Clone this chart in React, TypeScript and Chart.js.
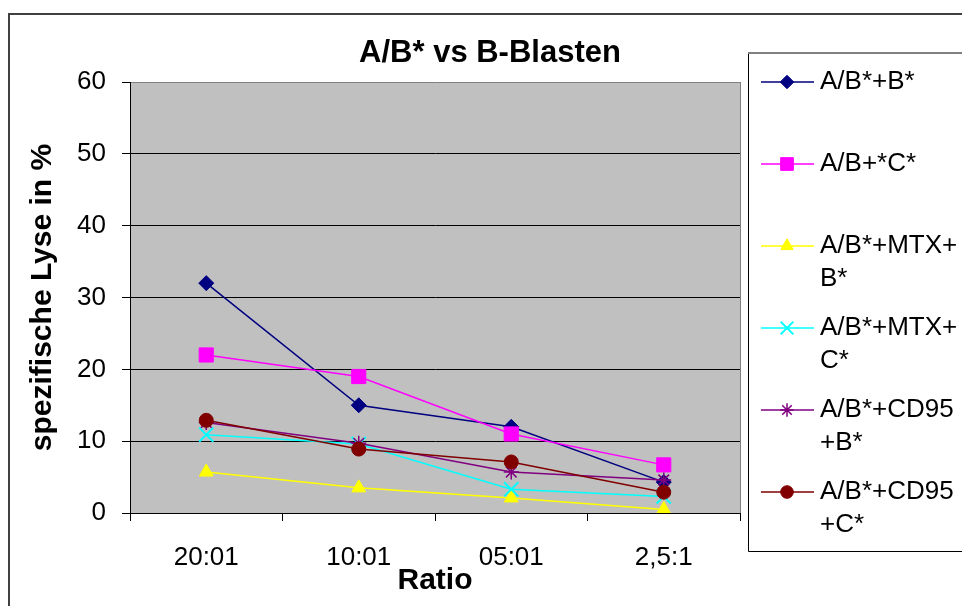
import React, { useEffect, useRef } from 'react';
import { Chart, registerables } from 'chart.js';
import { drawPoint } from 'chart.js/helpers';

Chart.register(...registerables);

// Effector:target ratios on the category axis
const ratios = ['20:01', '10:01', '05:01', '2,5:1'];

// Specific lysis (%) per ratio
const abB = [32, 15, 12, 4.3];
const abC = [22, 19, 11, 6.7];
const abMtxB = [5.7, 3.5, 2.1, 0.5];
const abMtxC = [10.9, 9.6, 3.3, 2.3];
const abCd95B = [12.6, 9.7, 5.7, 4.6];
const abCd95C = [12.9, 8.9, 7.1, 2.9];

// Legend names (line-wrapped as in the legend box)
const names: string[][] = [
  ['A/B*+B*'],
  ['A/B+*C*'],
  ['A/B*+MTX+', 'B*'],
  ['A/B*+MTX+', 'C*'],
  ['A/B*+CD95', '+B*'],
  ['A/B*+CD95', '+C*'],
];

const yTicks = { min: 0, max: 60, step: 10 };

const FONT = '"Liberation Sans", Arial, sans-serif';

type Style = { color: string; point: string; radius: number; pointWidth: number };
const styles: Style[] = [
  { color: '#000080', point: 'rectRot', radius: 7.5, pointWidth: 1 },
  { color: '#FF00FF', point: 'rect', radius: 10, pointWidth: 1 },
  { color: '#FFFF00', point: 'triangle', radius: 8, pointWidth: 1 },
  { color: '#00FFFF', point: 'crossRot', radius: 10, pointWidth: 2 },
  { color: '#800080', point: 'star', radius: 7.5, pointWidth: 1.5 },
  { color: '#800000', point: 'circle', radius: 7, pointWidth: 1 },
];

const seriesData = [abB, abC, abMtxB, abMtxC, abCd95B, abCd95C];

const decorations = {
  id: 'decorations',
  beforeDraw(chart: any) {
    const { ctx, chartArea: a } = chart;
    ctx.save();
    ctx.fillStyle = '#ffffff';
    ctx.fillRect(0, 0, chart.width, chart.height);
    // plot area fill
    ctx.fillStyle = '#C0C0C0';
    ctx.fillRect(a.left, a.top, a.right - a.left, a.bottom - a.top);
    // right edge of the plot area
    ctx.strokeStyle = '#808080';
    ctx.lineWidth = 1;
    ctx.beginPath();
    ctx.moveTo(a.right + 0.5, a.top);
    ctx.lineTo(a.right + 0.5, a.bottom);
    ctx.stroke();
    // outer chart frame
    ctx.strokeStyle = '#404040';
    ctx.lineWidth = 2;
    ctx.strokeRect(9, 14, 1000, 700);
    ctx.restore();
  },
  afterDraw(chart: any) {
    const { ctx } = chart;
    ctx.save();
    // chart title
    ctx.fillStyle = '#000';
    ctx.font = `bold 31px ${FONT}`;
    ctx.textAlign = 'center';
    ctx.textBaseline = 'middle';
    ctx.fillText('A/B* vs B-Blasten', 490, 53);

    // legend box
    const boxL = 748.5, boxT = 53, boxB = 551.5;
    ctx.strokeStyle = '#000';
    ctx.lineWidth = 1;
    ctx.beginPath();
    ctx.moveTo(chart.width + 5, boxB);
    ctx.lineTo(boxL, boxB);
    ctx.lineTo(boxL, boxT);
    ctx.stroke();
    ctx.strokeStyle = '#808080';
    ctx.lineWidth = 2;
    ctx.beginPath();
    ctx.moveTo(boxL - 0.5, boxT);
    ctx.lineTo(chart.width + 5, boxT);
    ctx.stroke();

    ctx.font = `26px ${FONT}`;
    ctx.textAlign = 'left';
    chart.data.datasets.forEach((ds: any, i: number) => {
      const y = 82 + i * 82;
      const s = styles[i];
      ctx.strokeStyle = s.color;
      ctx.lineWidth = 1.5;
      ctx.beginPath();
      ctx.moveTo(761, y);
      ctx.lineTo(814, y);
      ctx.stroke();
      ctx.fillStyle = s.color;
      ctx.strokeStyle = s.color;
      ctx.lineWidth = s.pointWidth;
      drawPoint(ctx, { pointStyle: s.point, radius: s.radius * 0.9, rotation: 0, borderWidth: s.pointWidth } as any, 787, y);
      ctx.fillStyle = '#000';
      const lines: string[] = names[i];
      lines.forEach((t, k) => ctx.fillText(t, 820, y + k * 33));
    });
    ctx.restore();
  },
};

export default function App() {
  const ref = useRef<HTMLCanvasElement>(null);

  useEffect(() => {
    const canvas = ref.current;
    if (!canvas) return;
    const n = seriesData.length;
    const chart = new Chart(canvas, {
      type: 'line',
      data: {
        labels: ratios,
        datasets: seriesData.map((d, i) => ({
          label: names[i].join(' '),
          data: d,
          borderColor: styles[i].color,
          backgroundColor: styles[i].color,
          borderWidth: 1.5,
          pointStyle: styles[i].point as any,
          pointRadius: styles[i].radius,
          pointBorderWidth: styles[i].pointWidth,
          pointBackgroundColor: styles[i].color,
          pointBorderColor: styles[i].color,
          tension: 0,
          fill: false,
          order: n - i,
        })),
      },
      options: {
        responsive: false,
        animation: false,
        events: [],
        layout: { padding: { left: 0, top: 82, right: 222, bottom: 0 } },
        plugins: {
          legend: { display: false },
          title: { display: false },
          tooltip: { enabled: false },
        },
        scales: {
          x: {
            type: 'category',
            offset: true,
            afterFit: (s: any) => { s.height = 93; },
            grid: {
              offset: true,
              drawOnChartArea: false,
              drawTicks: true,
              tickLength: 8,
              tickColor: '#000',
            },
            border: { color: '#000', width: 1 },
            ticks: {
              color: '#000',
              font: { family: FONT, size: 26 },
              padding: 21,
              maxRotation: 0,
              autoSkip: false,
            },
            title: {
              display: true,
              text: 'Ratio',
              color: '#000',
              font: { family: FONT, size: 30, weight: 'bold' },
              padding: { top: 0, bottom: 7 },
            },
          },
          y: {
            min: yTicks.min,
            max: yTicks.max,
            afterFit: (s: any) => { s.width = 130; },
            grid: {
              color: (c: any) => (c.tick && c.tick.value === yTicks.max ? '#808080' : '#000'),
              tickColor: '#000',
              tickLength: 8,
              lineWidth: 1,
            },
            border: { color: '#000', width: 1 },
            ticks: {
              stepSize: yTicks.step,
              color: '#000',
              font: { family: FONT, size: 26 },
              padding: 16,
            },
            title: {
              display: true,
              text: 'spezifische Lyse in %',
              color: '#000',
              font: { family: FONT, size: 30, weight: 'bold' },
              padding: { top: 25, bottom: 0 },
            },
          },
        },
      },
      plugins: [decorations],
    });
    return () => chart.destroy();
  }, []);

  return (
    <div style={{ position: 'fixed', left: 0, top: 0, width: 962, height: 606, background: '#fff' }}>
      <canvas ref={ref} width={962} height={606} style={{ display: 'block', width: 962, height: 606 }} />
    </div>
  );
}
